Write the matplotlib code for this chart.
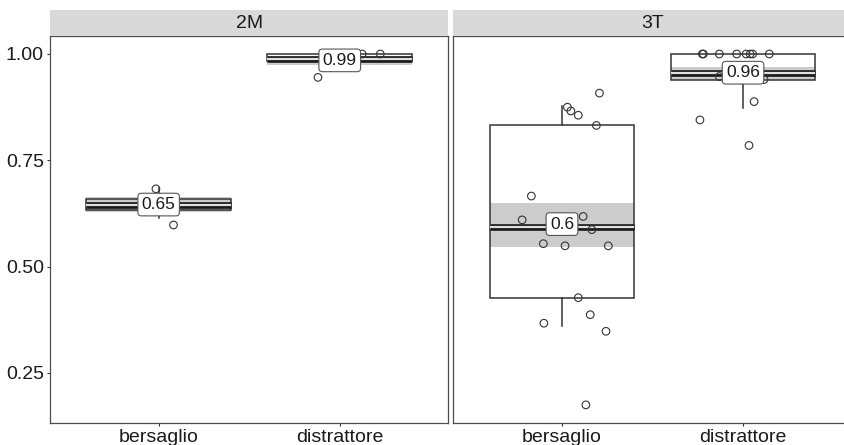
import matplotlib
matplotlib.use('Agg')
import matplotlib.pyplot as plt

plt.rcParams['font.family'] = ['Liberation Sans', 'DejaVu Sans']

panels = ['2M', '3T']
groups = ['bersaglio', 'distrattore']

# box statistics, per panel: [bersaglio, distrattore]
q1 = {'2M': [0.633, 0.984], '3T': [0.427, 0.939]}
med = {'2M': [0.646, 0.988], '3T': [0.594, 0.955]}
q3 = {'2M': [0.659, 1.000], '3T': [0.833, 1.000]}
whislo = {'2M': [0.615, 0.962], '3T': [0.360, 0.872]}
whishi = {'2M': [0.685, 1.000], '3T': [0.878, 1.000]}
band_lo = {'2M': [0.629, 0.973], '3T': [0.546, 0.939]}
band_hi = {'2M': [0.664, 0.996], '3T': [0.650, 0.970]}

# mean labels
label_y = {'2M': [0.646, 0.985], '3T': [0.600, 0.956]}
label_txt = {'2M': ['0.65', '0.99'], '3T': ['0.6', '0.96']}

# jittered raw points (offset from category, value)
pts_2m_b_x = [-0.015, 0.082]
pts_2m_b_y = [0.683, 0.598]
pts_2m_d_x = [-0.12, 0.124, 0.224]
pts_2m_d_y = [0.945, 1.0, 1.0]
pts_3t_b_x = [0.207, 0.03, 0.049, 0.09, 0.19, -0.169, -0.22, 0.117, 0.165,
              -0.103, 0.017, 0.256, 0.09, 0.156, -0.10, 0.243, 0.132]
pts_3t_b_y = [0.908, 0.875, 0.866, 0.856, 0.832, 0.666, 0.61, 0.618, 0.587,
              0.554, 0.549, 0.549, 0.427, 0.387, 0.367, 0.348, 0.175]
pts_3t_d_x = [-0.219, -0.225, -0.131, -0.035, 0.017, 0.039, 0.053, 0.145,
              -0.131, 0.116, 0.061, -0.238, 0.033]
pts_3t_d_y = [1.0, 1.0, 1.0, 1.0, 1.0, 1.0, 1.0, 1.0,
              0.947, 0.94, 0.888, 0.845, 0.785]

points = {
    '2M': [(pts_2m_b_x, pts_2m_b_y), (pts_2m_d_x, pts_2m_d_y)],
    '3T': [(pts_3t_b_x, pts_3t_b_y), (pts_3t_d_x, pts_3t_d_y)],
}

fig = plt.figure(figsize=(8.45, 4.45), dpi=100)

panel_left = [0.0592, 0.5365]
pw, pb, ph = 0.4714, 0.0501, 0.869
edge = '#333333'

for i, p in enumerate(panels):
    ax = fig.add_axes([panel_left[i], pb, pw, ph])
    pos = [1, 2]

    for j in range(2):
        ax.fill_between([pos[j] - 0.4, pos[j] + 0.4], band_lo[p][j], band_hi[p][j],
                        color='#cccccc', lw=0, zorder=2)

    stats = [dict(med=med[p][j], q1=q1[p][j], q3=q3[p][j],
                  whislo=whislo[p][j], whishi=whishi[p][j], fliers=[])
             for j in range(2)]
    ax.bxp(stats, positions=pos, widths=0.8, patch_artist=True,
           showfliers=False, showcaps=False,
           boxprops=dict(facecolor='none', edgecolor=edge, linewidth=1.1),
           whiskerprops=dict(color=edge, linewidth=1.1),
           medianprops=dict(color='#1a1a1a', linewidth=4.8, solid_capstyle='butt'),
           zorder=3)
    ax.hlines(med[p], [x - 0.4 for x in pos], [x + 0.4 for x in pos],
              color='#e0e0e0', lw=1.6, zorder=3.5)

    for j in range(2):
        xs, ys = points[p][j]
        ax.scatter([pos[j] + dx for dx in xs], ys, s=30, facecolors='none',
                   edgecolors=edge, linewidths=0.8, zorder=4)
        ax.text(pos[j], label_y[p][j], label_txt[p][j], ha='center', va='center',
                fontsize=12.5, color='#1a1a1a', zorder=5,
                bbox=dict(boxstyle='round,pad=0.22,rounding_size=0.2',
                          fc='white', ec='#555555', lw=0.8))

    ax.set_xlim(0.4, 2.6)
    ax.set_ylim(0.1331, 1.0423)
    ax.set_xticks(pos)
    ax.set_xticklabels(groups)
    ax.set_yticks([0.25, 0.5, 0.75, 1.0])
    ax.set_yticklabels(['0.25', '0.50', '0.75', '1.00'])
    ax.tick_params(length=2.5, width=0.8, color=edge, labelsize=14,
                   labelcolor='#1a1a1a', pad=2)
    if i == 1:
        ax.tick_params(axis='y', left=False, labelleft=False)
    for s in ax.spines.values():
        s.set_color('#4d4d4d')
        s.set_linewidth(0.9)

    strip = fig.add_axes([panel_left[i], 0.9191, pw, 0.0584])
    strip.set_facecolor('#d9d9d9')
    strip.set_xticks([])
    strip.set_yticks([])
    for s in strip.spines.values():
        s.set_visible(False)
    strip.text(0.5, 0.5, p, ha='center', va='center', fontsize=14,
               color='#1a1a1a', transform=strip.transAxes)

fig.savefig('out.png', dpi=100)
